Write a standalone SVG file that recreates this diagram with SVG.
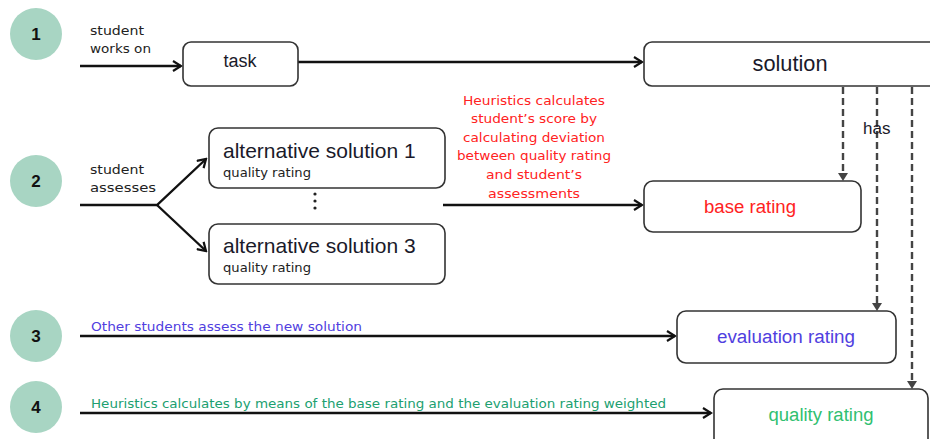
<svg xmlns="http://www.w3.org/2000/svg" width="930" height="439" viewBox="0 0 930 439">
<style>
text{font-family:"Liberation Sans",Arial,sans-serif;}
.step{fill:#a8d5c3;}
.num{font-size:17px;font-weight:bold;fill:#111;text-anchor:middle;}
.box{fill:#fff;stroke:#333;stroke-width:1.6;}
.lbl{font-family:"DejaVu Sans",Verdana,sans-serif;font-size:12px;fill:#222;}
.big{font-size:21px;fill:#1a1a2a;}
.mid{font-size:18px;fill:#1a1a2a;text-anchor:middle;}
.small{font-family:"DejaVu Sans",Verdana,sans-serif;font-size:12px;fill:#222;}
.red{font-family:"DejaVu Sans",Verdana,sans-serif;font-size:12.5px;fill:#ff2222;text-anchor:middle;}
.solid{fill:none;stroke:#111;stroke-width:2.4;}
.dash{fill:none;stroke:#444;stroke-width:2.4;stroke-dasharray:7 4;}
</style>
<defs>
<marker id="open" markerWidth="12" markerHeight="12" refX="10" refY="6" orient="auto" markerUnits="userSpaceOnUse">
<path d="M2,1 L10,6 L2,11" fill="none" stroke="#111" stroke-width="2.2"/>
</marker>
</defs>

<g id="steps">
<circle class="step" cx="36" cy="34" r="26"/><text class="num" x="36" y="40">1</text>
<circle class="step" cx="36" cy="181" r="26"/><text class="num" x="36" y="187">2</text>
<circle class="step" cx="36" cy="336" r="26"/><text class="num" x="36" y="342">3</text>
<circle class="step" cx="36" cy="407" r="26"/><text class="num" x="36" y="413">4</text>
</g>

<g id="connectors">
<path class="solid" d="M80,66 H181" marker-end="url(#open)"/>
<path class="solid" d="M298,62 H642" marker-end="url(#open)"/>
<path class="solid" d="M80,205 H157 L206,159" marker-end="url(#open)"/>
<path class="solid" d="M157,205 L206,251" marker-end="url(#open)"/>
<path class="solid" d="M443,205 H642" marker-end="url(#open)"/>
<path class="solid" d="M80,336 H675" marker-end="url(#open)"/>
<path class="solid" d="M80,413 H711" marker-end="url(#open)"/>
<path class="dash" d="M843,87 V173"/>
<path d="M838,173 L848,173 L843,181 Z" fill="#444"/>
<path class="dash" d="M877,87 V303"/>
<path d="M872,303 L882,303 L877,311 Z" fill="#444"/>
<path class="dash" d="M912,87 V381"/>
<path d="M907,381 L917,381 L912,389 Z" fill="#444"/>
<text x="863" y="134" font-size="17" fill="#1a1a2a">has</text>
</g>

<g id="labels">
<text class="lbl" x="90" y="35" textLength="54" lengthAdjust="spacingAndGlyphs">student</text>
<text class="lbl" x="90" y="53" textLength="61" lengthAdjust="spacingAndGlyphs">works on</text>
<text class="lbl" x="90" y="174" textLength="54" lengthAdjust="spacingAndGlyphs">student</text>
<text class="lbl" x="90" y="192" textLength="66" lengthAdjust="spacingAndGlyphs">assesses</text>
<text class="red" x="534" y="105" textLength="142" lengthAdjust="spacingAndGlyphs">Heuristics calculates</text>
<text class="red" x="534" y="123" textLength="126" lengthAdjust="spacingAndGlyphs">student’s score by</text>
<text class="red" x="534" y="142" textLength="142" lengthAdjust="spacingAndGlyphs">calculating deviation</text>
<text class="red" x="534" y="160" textLength="154" lengthAdjust="spacingAndGlyphs">between quality rating</text>
<text class="red" x="534" y="179" textLength="96" lengthAdjust="spacingAndGlyphs">and student’s</text>
<text class="red" x="534" y="198" textLength="92" lengthAdjust="spacingAndGlyphs">assessments</text>
<text class="lbl" x="91" y="331" style="fill:#5040e0" textLength="271" lengthAdjust="spacingAndGlyphs">Other students assess the new solution</text>
<text class="lbl" x="91" y="408" style="fill:#20a070" textLength="575" lengthAdjust="spacingAndGlyphs">Heuristics calculates by means of the base rating and the evaluation rating weighted</text>
</g>

<g id="task">
<rect class="box" x="183" y="42" width="115" height="44" rx="8"/>
<text class="mid" x="240" y="67" font-size="17">task</text>
</g>

<g id="solution">
<rect class="box" x="644" y="42" width="300" height="44" rx="8"/>
<text class="mid" x="790" y="71" style="font-size:22px" textLength="75" lengthAdjust="spacingAndGlyphs">solution</text>
</g>

<g id="alt1">
<rect class="box" x="209" y="128" width="236" height="60" rx="9"/>
<text class="big" x="223" y="158">alternative solution 1</text>
<text class="small" x="223" y="177" textLength="88" lengthAdjust="spacingAndGlyphs">quality rating</text>
</g>

<g id="dots" fill="#222">
<circle cx="315" cy="194" r="1.6"/>
<circle cx="315" cy="201" r="1.6"/>
<circle cx="315" cy="208" r="1.6"/>
</g>

<g id="alt3">
<rect class="box" x="209" y="224" width="236" height="60" rx="9"/>
<text class="big" x="223" y="253">alternative solution 3</text>
<text class="small" x="223" y="272" textLength="88" lengthAdjust="spacingAndGlyphs">quality rating</text>
</g>

<g id="base">
<rect class="box" x="644" y="181" width="217" height="51" rx="9"/>
<text class="mid" x="750" y="213" style="fill:#ff2222" textLength="92" lengthAdjust="spacingAndGlyphs">base rating</text>
</g>

<g id="evaluation">
<rect class="box" x="677" y="311" width="219" height="52" rx="9"/>
<text class="mid" x="786" y="343" style="fill:#5040e0" textLength="138" lengthAdjust="spacingAndGlyphs">evaluation rating</text>
</g>

<g id="quality">
<rect class="box" x="714" y="389" width="214" height="62" rx="9"/>
<text class="mid" x="821" y="421" style="fill:#30c070" textLength="105" lengthAdjust="spacingAndGlyphs">quality rating</text>
</g>
</svg>
